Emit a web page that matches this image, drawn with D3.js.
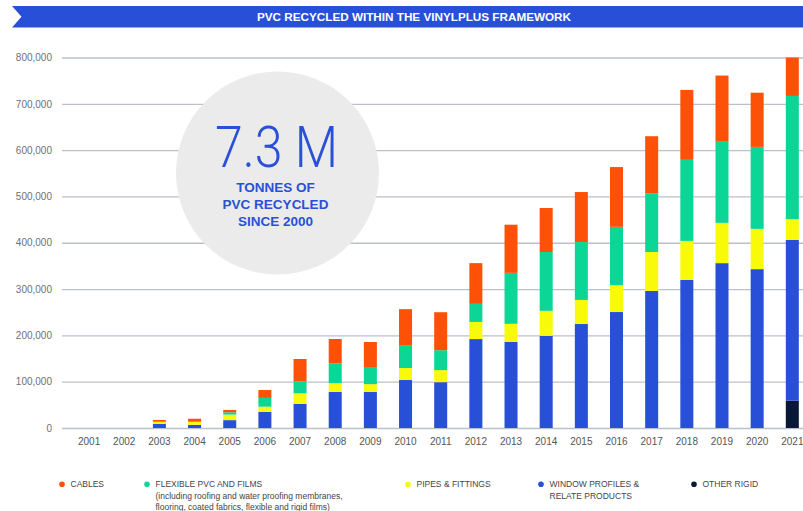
<!DOCTYPE html>
<html>
<head>
<meta charset="utf-8">
<script src="https://cdnjs.cloudflare.com/ajax/libs/d3/7.8.5/d3.min.js"></script>
<style>
  body { margin: 0; background: #fff; }
  svg { display: block; }
</style>
</head>
<body>
<div id="chart-area"></div>
<script>
// data (tonnes)
var years = ["2001","2002","2003","2004","2005","2006","2007","2008","2009","2010","2011",
             "2012","2013","2014","2015","2016","2017","2018","2019","2020","2021"];
var otherRigid = [0,0,0,0,0,0,0,0,0,0,0,0,0,0,0,0,0,0,0,0,59000];
var windowProfiles = [0,0,8600,7000,17000,35000,52000,77700,77700,103600,99000,
                      192000,186000,199000,224500,250400,296000,320000,356000,343000,347000];
var pipes = [0,0,5000,6500,12000,11000,23000,19500,17000,26000,26000,
             37000,39000,54000,52000,58000,84000,84000,87000,87000,45000];
var flexible = [0,0,0,0,5000,19000,26000,42000,37000,48000,43000,
                39000,110000,127000,125000,126000,127000,175000,175000,177000,266000];
var cables = [0,0,3700,6500,5000,17000,48000,53000,54000,79000,82000,
              88000,104000,95000,108000,129000,123000,151000,143000,117000,83000];
var yTicks = [0,100000,200000,300000,400000,500000,600000,700000,800000];

var seriesKeys = ["other", "window", "pipes", "flexible", "cables"];
var colors = {
    cables: "#fd5108",
    flexible: "#0bd696",
    pipes: "#f9f90a",
    window: "#284fd8",
    other: "#0a1838"
};

var width = 803, height = 511;

var svg = d3.select("#chart-area").append("svg")
    .attr("width", width)
    .attr("height", height);

// title banner
svg.append("path")
    .attr("d", "M12,6 L803,6 L803,27.5 L12,27.5 L21.5,16.7 Z")
    .attr("fill", "#284fd8");
svg.append("text")
    .attr("x", 414)
    .attr("y", 20.6)
    .attr("text-anchor", "middle")
    .attr("fill", "#fff")
    .attr("font-family", "Liberation Sans, Arial, sans-serif")
    .attr("font-weight", "bold")
    .attr("font-size", "10.5px")
    .attr("textLength", 314)
    .attr("lengthAdjust", "spacingAndGlyphs")
    .text("PVC RECYCLED WITHIN THE VINYLPLUS FRAMEWORK");

// scales
var x = d3.scaleBand()
    .domain(years)
    .range([71.5, 809.9])
    .paddingInner(0.63)
    .paddingOuter(0.315);

var y = d3.scaleLinear()
    .domain([0, 800000])
    .range([428, 57.5]);

// gridlines + y labels
var yAxisCall = d3.axisLeft(y)
    .tickValues(yTicks)
    .tickSize(-(803 - 62))
    .tickPadding(10)
    .tickFormat(d3.format(","));
var yAxisGroup = svg.append("g")
    .attr("transform", "translate(62,0)")
    .call(yAxisCall);
yAxisGroup.select(".domain").remove();
yAxisGroup.selectAll("line")
    .attr("stroke", "#bcc0ca")
    .attr("stroke-width", 1.3);
yAxisGroup.selectAll("text")
    .attr("fill", "#707070")
    .attr("font-family", "Liberation Sans, Arial, sans-serif")
    .attr("font-size", "10px");

// big circle callout
svg.append("circle")
    .attr("cx", 277.5)
    .attr("cy", 173)
    .attr("r", 101.5)
    .attr("fill", "#ebebeb");
svg.append("text")
    .attr("x", 276.5)
    .attr("y", 167)
    .attr("text-anchor", "middle")
    .attr("fill", "#2a50d8")
    .attr("font-family", "Roboto, sans-serif")
    .attr("font-weight", 300)
    .attr("font-size", "57px")
    .attr("textLength", 123)
    .attr("lengthAdjust", "spacingAndGlyphs")
    .text("7.3 M");
var sub = ["TONNES OF", "PVC RECYCLED", "SINCE 2000"];
svg.selectAll(".sub").data(sub).enter()
    .append("text")
    .attr("class", "sub")
    .attr("x", 275.5)
    .attr("y", function (d, i) { return 191.5 + i * 17.2; })
    .attr("text-anchor", "middle")
    .attr("fill", "#2a50d8")
    .attr("font-family", "Liberation Sans, Arial, sans-serif")
    .attr("font-weight", "bold")
    .attr("font-size", "13.5px")
    .text(function (d) { return d; });

// stacked bars
var table = years.map(function (yr, i) {
    return {
        year: yr,
        other: otherRigid[i],
        window: windowProfiles[i],
        pipes: pipes[i],
        flexible: flexible[i],
        cables: cables[i]
    };
});
var stacked = d3.stack().keys(seriesKeys)(table);

var layers = svg.selectAll(".layer").data(stacked).enter()
    .append("g")
    .attr("class", "layer")
    .attr("fill", function (d) { return colors[d.key]; });
layers.selectAll("rect")
    .data(function (d) { return d; })
    .enter()
    .append("rect")
    .attr("x", function (d) { return x(d.data.year); })
    .attr("y", function (d) { return y(d[1]); })
    .attr("width", x.bandwidth())
    .attr("height", function (d) { return y(d[0]) - y(d[1]); });

// x axis labels
var xAxisCall = d3.axisBottom(x).tickSize(0).tickPadding(10);
var xAxisGroup = svg.append("g")
    .attr("transform", "translate(0,428)")
    .call(xAxisCall);
xAxisGroup.select(".domain").remove();
xAxisGroup.selectAll("text")
    .attr("fill", "#555")
    .attr("font-family", "Liberation Sans, Arial, sans-serif")
    .attr("font-size", "10px");

// legend
var legend = [
    { key: "cables", x: 62, lines: ["CABLES"] },
    { key: "flexible", x: 147, lines: ["FLEXIBLE PVC AND FILMS",
        "(including roofing and water proofing membranes,",
        "flooring, coated fabrics, flexible and rigid films)"] },
    { key: "pipes", x: 408, lines: ["PIPES & FITTINGS"] },
    { key: "window", x: 541, lines: ["WINDOW PROFILES &", "RELATE PRODUCTS"] },
    { key: "other", x: 694, lines: ["OTHER RIGID"] }
];
var lg = svg.selectAll(".legend").data(legend).enter()
    .append("g")
    .attr("class", "legend")
    .attr("transform", function (d) { return "translate(" + d.x + ",484.3)"; });
lg.append("circle")
    .attr("r", 2.8)
    .attr("fill", function (d) { return colors[d.key]; });
lg.each(function (d) {
    d3.select(this).selectAll("text").data(d.lines).enter()
        .append("text")
        .attr("x", 8.5)
        .attr("y", function (t, i) { return 2.8 + i * 11.6; })
        .attr("fill", "#444")
        .attr("font-family", "Liberation Sans, Arial, sans-serif")
        .attr("font-size", "8.5px")
        .text(function (t) { return t; });
});
</script>
</body>
</html>
